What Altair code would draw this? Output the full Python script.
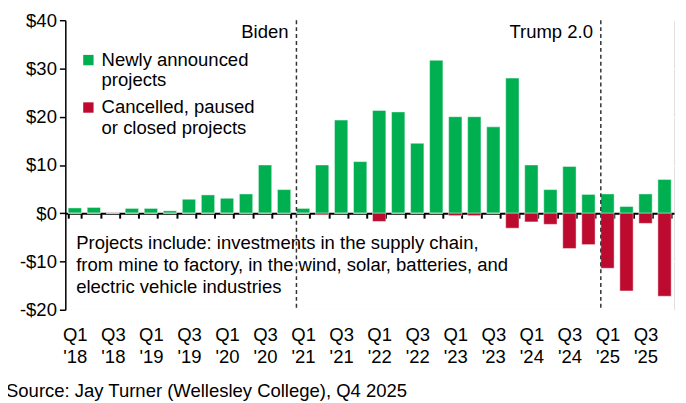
import altair as alt
import pandas as pd

quarters = [f"Q{q} '{y}" for y in range(18, 26) for q in range(1, 5)]
new_projects = [1.1, 1.2, 0.0, 1.0, 1.0, 0.5, 2.9, 3.8,
                3.1, 4.0, 10.0, 4.9, 1.0, 10.0, 19.3, 10.7,
                21.3, 21.0, 14.5, 31.7, 20.0, 20.0, 17.9, 28.0,
                10.0, 4.9, 9.7, 3.9, 4.0, 1.4, 4.0, 7.0]
cancelled = [0.0, 0.0, 0.0, 0.0, 0.0, 0.0, 0.0, 0.0,
             0.0, -0.1, 0.0, -0.1, 0.0, -0.3, 0.0, 0.0,
             -1.7, 0.0, 0.0, 0.0, -0.5, -0.5, 0.0, -3.1,
             -1.8, -2.3, -7.3, -6.5, -11.4, -16.1, -2.1, -17.2]
series = ["Newly announced|projects", "Cancelled, paused|or closed projects"]
colors = ["#00B050", "#BD0B2F"]
eras = ["Biden", "Trump 2.0"]
era_starts = ["Q1 '21", "Q1 '25"]
note = "Projects include: investments in the supply chain,\nfrom mine to factory, in the wind, solar, batteries, and\nelectric vehicle industries"
source = "Source: Jay Turner (Wellesley College), Q4 2025"

rows = []
for q, v in zip(quarters, new_projects):
    rows.append({"quarter": q, "series": series[0], "value": v})
for q, v in zip(quarters, cancelled):
    rows.append({"quarter": q, "series": series[1], "value": v})
df = pd.DataFrame(rows)
df_era = pd.DataFrame({"quarter": era_starts, "label": eras, "ypos": [37.5, 37.5]})
df_note = pd.DataFrame({"text": [note], "ypos": [-6.1]})

W, H = 616, 293
FONT = "Liberation Sans"
FS = 18.7

xscale = alt.Scale(domain=quarters, paddingInner=0.3, paddingOuter=0.15)
yscale = alt.Scale(domain=[-20, 40], nice=False)

bars = alt.Chart(df).mark_bar(stroke="white", strokeOpacity=0.45, strokeWidth=1).encode(
    x=alt.X("quarter:N", scale=xscale, sort=quarters,
            axis=alt.Axis(title=None, labelAngle=0, tickBand="extent",
                          offset=-H * 20 / 60, domainColor="black", domainWidth=2,
                          tickColor="black", tickWidth=2, tickSize=5,
                          labelPadding=109, labelBaseline="top",
                          labelFont=FONT, labelFontSize=FS, labelColor="black",
                          labelLineHeight=22,
                          labelExpr="test(/Q[13]/, datum.value) ? split(datum.value, ' ') : ''")),
    y=alt.Y("value:Q", scale=yscale, stack=None,
            axis=alt.Axis(title=None, values=[-20, -10, 0, 10, 20, 30, 40],
                          labelExpr="datum.value < 0 ? '-$' + abs(datum.value) : '$' + datum.value",
                          labelFont=FONT, labelFontSize=FS, labelColor="black",
                          domainColor="black", domainWidth=1.5, tickColor="black",
                          tickSize=6, tickWidth=1.5, labelPadding=3,
                          grid=True, gridColor="white", gridWidth=2)),
    color=alt.Color("series:N", scale=alt.Scale(domain=series, range=colors),
                    legend=alt.Legend(title=None, orient="none", legendX=14, legendY=31,
                                      symbolType="square", symbolSize=110, symbolStrokeWidth=0,
                                      labelFont=FONT, labelFontSize=FS, labelColor="black",
                                      labelLimit=300, rowPadding=8,
                                      labelExpr="split(datum.value, '|')")),
)

rules = alt.Chart(df_era).mark_rule(color="#333333", strokeDash=[4, 3], strokeWidth=1.5).encode(
    x=alt.X("quarter:N", scale=xscale, bandPosition=0)
)

era_text = alt.Chart(df_era).mark_text(align="right", baseline="middle", dx=-8,
                                       font=FONT, fontSize=FS, color="black").encode(
    x=alt.X("quarter:N", scale=xscale, bandPosition=0),
    y=alt.Y("ypos:Q", scale=yscale),
    text="label:N",
)

note_text = alt.Chart(df_note).mark_text(align="left", baseline="middle", lineBreak="\n",
                                         lineHeight=22.5, font=FONT, fontSize=FS,
                                         color="black").encode(
    x=alt.value(11),
    y=alt.Y("ypos:Q", scale=yscale),
    text="text:N",
)

chart = alt.layer(bars, rules, era_text, note_text).properties(
    width=W, height=H,
    autosize=alt.AutoSizeParams(type="none"),
    padding={"left": 58, "top": 10, "right": 4, "bottom": 92},
    title=alt.TitleParams(source, orient="bottom", anchor="start", frame="group",
                          dx=-60, offset=16, font=FONT, fontSize=FS,
                          fontWeight="normal", color="black"),
).configure_view(fill="#E8F0F3", stroke=None).configure(background="white")

chart.save("out.html", embed_options={"renderer": "svg", "actions": False})
